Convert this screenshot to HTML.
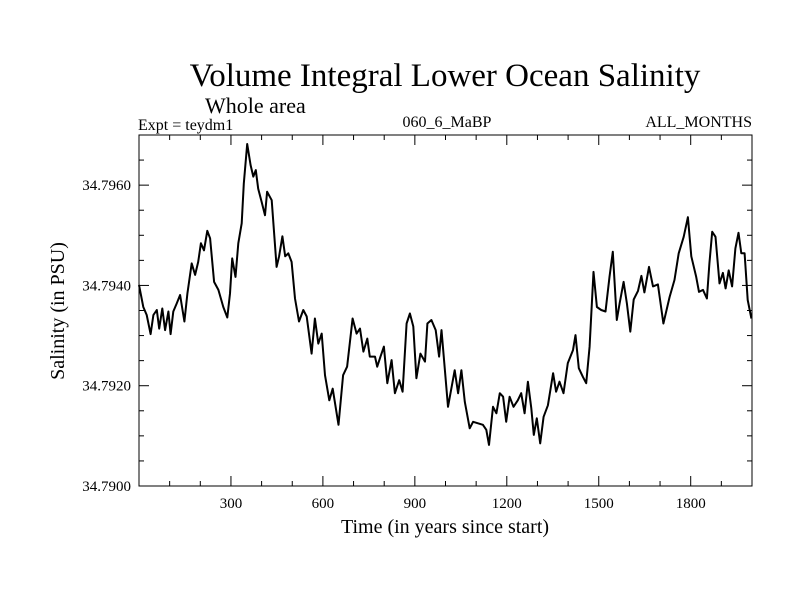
<!DOCTYPE html>
<html><head><meta charset="utf-8"><style>
body{margin:0;background:#fff;}
svg text{font-family:"Liberation Serif",serif;fill:#000;}
</style></head><body>
<svg id="chart" width="800" height="600" xmlns="http://www.w3.org/2000/svg">
<text x="445" y="86" font-size="33" text-anchor="middle">Volume Integral Lower Ocean Salinity</text>
<text x="205" y="113" font-size="22">Whole area</text>
<text x="138" y="130" font-size="16">Expt = teydm1</text>
<text x="447" y="127" font-size="16" text-anchor="middle">060_6_MaBP</text>
<text x="752" y="127" font-size="16" text-anchor="end">ALL_MONTHS</text>
<text x="445" y="533" font-size="20" text-anchor="middle">Time (in years since start)</text>
<text transform="translate(64,311) rotate(-90)" font-size="20" text-anchor="middle">Salinity (in PSU)</text>
<g id="axes"></g>
<path id="series" fill="none" stroke="#000" stroke-width="2" stroke-linejoin="round"/>
</svg>
<script>
const years=[0,14,25,38,47,58,66,76,85,96,103,112,123,134,148,158,172,183,193,202,212,223,232,245,259,275,288,297,304,315,324,335,342,353,364,373,381,389,400,411,418,433,449,457,468,477,487,498,509,522,536,547,563,574,585,596,607,621,632,651,666,679,697,710,721,732,745,753,770,777,788,799,810,824,835,849,860,873,884,895,905,918,933,941,954,968,979,987,998,1008,1030,1041,1052,1063,1079,1090,1106,1122,1133,1142,1155,1166,1177,1188,1198,1209,1222,1236,1247,1258,1269,1280,1288,1298,1309,1320,1334,1351,1361,1372,1385,1399,1416,1424,1435,1448,1459,1470,1483,1494,1508,1522,1535,1546,1559,1568,1581,1592,1603,1614,1628,1639,1649,1664,1677,1693,1711,1731,1747,1761,1777,1791,1802,1818,1827,1840,1853,1861,1870,1881,1894,1905,1914,1924,1935,1946,1956,1965,1976,1986,1998];
const salinity=[34.79401,34.79357,34.79341,34.79303,34.79341,34.79351,34.79314,34.79354,34.79311,34.79348,34.79303,34.79348,34.79364,34.79381,34.79328,34.79384,34.79444,34.79421,34.79447,34.79484,34.79470,34.79509,34.79494,34.79407,34.79391,34.79357,34.79336,34.79384,34.79454,34.79417,34.79484,34.79524,34.79603,34.79682,34.79640,34.79617,34.79630,34.79593,34.79567,34.79540,34.79587,34.79570,34.79437,34.79458,34.79498,34.79458,34.79464,34.79447,34.79374,34.79328,34.79351,34.79338,34.79264,34.79334,34.79284,34.79304,34.79221,34.79171,34.79194,34.79122,34.79221,34.79238,34.79334,34.79304,34.79314,34.79268,34.79294,34.79258,34.79258,34.79238,34.79258,34.79278,34.79205,34.79251,34.79185,34.79211,34.79188,34.79324,34.79344,34.79318,34.79215,34.79264,34.79248,34.79324,34.79331,34.79311,34.79258,34.79311,34.79231,34.79158,34.79231,34.79185,34.79231,34.79168,34.79115,34.79128,34.79125,34.79122,34.79112,34.79082,34.79158,34.79145,34.79185,34.79178,34.79128,34.79178,34.79158,34.79171,34.79185,34.79145,34.79208,34.79155,34.79102,34.79135,34.79085,34.79138,34.79161,34.79225,34.79188,34.79208,34.79185,34.79245,34.79271,34.79301,34.79235,34.79218,34.79205,34.79278,34.79427,34.79357,34.79351,34.79348,34.79417,34.79467,34.79331,34.79364,34.79407,34.79364,34.79308,34.79372,34.79389,34.79419,34.79386,34.79437,34.79398,34.79402,34.79324,34.79377,34.79411,34.79464,34.79497,34.79536,34.79458,34.79417,34.79387,34.79391,34.79374,34.79444,34.79507,34.79497,34.79404,34.79425,34.79394,34.79430,34.79398,34.79474,34.79505,34.79464,34.79464,34.79371,34.79334];
const xTicks=[300,600,900,1200,1500,1800];
const yTicks=[34.790,34.792,34.794,34.796];
const L=139,R=752,T=135,B=486,X0=0,X1=2000,Y0=34.790,Y1=34.797;
function sx(v){return L+(v-X0)/(X1-X0)*(R-L);}
function sy(v){return B-(v-Y0)/(Y1-Y0)*(B-T);}
const NS="http://www.w3.org/2000/svg";
const ax=document.getElementById('axes');
function mk(tag,attrs){const e=document.createElementNS(NS,tag);for(const k in attrs)e.setAttribute(k,attrs[k]);ax.appendChild(e);return e;}
const fr=mk('rect',{x:L,y:T,width:R-L,height:B-T,fill:'none',stroke:'#000','stroke-width':1});


for(let v=100;v<X1;v+=100){const major=v%300===0;const len=major?10:5;
 mk('line',{x1:sx(v),x2:sx(v),y1:B,y2:B-len,stroke:'#000'});
 mk('line',{x1:sx(v),x2:sx(v),y1:T,y2:T+len,stroke:'#000'});}
for(let i=1;i<14;i++){const v=Y0+i*0.0005;const major=i%4===0;const len=major?10:5;
 mk('line',{x1:L,x2:L+len,y1:sy(v),y2:sy(v),stroke:'#000'});
 mk('line',{x1:R,x2:R-len,y1:sy(v),y2:sy(v),stroke:'#000'});}
xTicks.forEach(v=>{const t=mk('text',{x:sx(v),y:B+22,'font-size':15,'text-anchor':'middle'});t.textContent=v;
 
 });
yTicks.forEach(v=>{const t=mk('text',{x:L-8,y:sy(v)+5,'font-size':15,'text-anchor':'end'});t.textContent=v.toFixed(4);
 
 });
let d='';years.forEach((y,i)=>{d+=(i?'L':'M')+sx(y).toFixed(1)+','+sy(salinity[i]).toFixed(1);});
document.getElementById('series').setAttribute('d',d);
</script>
</body></html>
